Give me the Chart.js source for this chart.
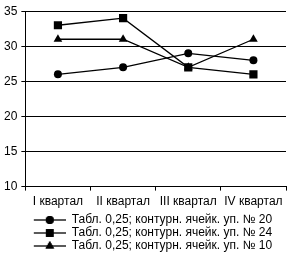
<!DOCTYPE html>
<html><head><meta charset="utf-8">
<script src="https://cdn.jsdelivr.net/npm/chart.js@4"></script>
<style>html,body{margin:0;padding:0;background:#fff;}#wrap{width:295px;height:267px;}</style>
</head><body><div id="wrap"><canvas id="c" width="295" height="267"></canvas></div>
<script>
const categories = ["I квартал", "II квартал", "III квартал", "IV квартал"];
const seriesNames = ["Табл. 0,25; контурн. ячейк. уп. № 20", "Табл. 0,25; контурн. ячейк. уп. № 24", "Табл. 0,25; контурн. ячейк. уп. № 10"];
const series20 = [26, 27, 29, 28];
const series24 = [33, 34, 27, 26];
const series10 = [31, 31, 27, 31];
const yTicks = [10, 15, 20, 25, 30, 35];

const FONT = "'Liberation Sans Narrow', 'Arial Narrow', 'Liberation Sans', Arial, sans-serif";
const styles = ['circle', 'rect', 'triangle'];
const radii = [4, 5.8, 5];
const legendRadii = [4, 5.5, 5];
const ICON_W = 52, ICON_PAD = 20;

function legendIcon(i) {
  const cv = document.createElement('canvas');
  cv.width = ICON_W; cv.height = 12;
  const g = cv.getContext('2d');
  g.strokeStyle = '#000'; g.lineWidth = 1.3;
  g.beginPath(); g.moveTo(ICON_PAD, 6); g.lineTo(ICON_W, 6); g.stroke();
  g.fillStyle = '#000';
  Chart.helpers.drawPoint(g, {pointStyle: styles[i], radius: legendRadii[i], borderWidth: 0}, ICON_PAD + (ICON_W - ICON_PAD) / 2, 6);
  g.fill();
  return cv;
}
const datasets = [series20, series24, series10].map((d, i) => ({
  label: seriesNames[i],
  data: d,
  borderColor: '#000',
  backgroundColor: '#000',
  borderWidth: 1.3,
  pointStyle: styles[i],
  pointRadius: radii[i],
  pointHoverRadius: radii[i],
  pointBackgroundColor: '#000',
  pointBorderWidth: 0,
  tension: 0
}));

new Chart(document.getElementById('c'), {
  type: 'line',
  data: { labels: categories, datasets },
  options: {
    responsive: false,
    animation: false,
    layout: { padding: { left: 0, right: 9, top: 3, bottom: 5 } },
    plugins: {
      tooltip: { enabled: false },
      legend: {
        position: 'bottom',
        align: 'center',
        labels: {
          usePointStyle: true,
          pointStyleWidth: ICON_W,
          boxHeight: 12,
          padding: 1,
          color: '#000',
          font: { family: FONT, size: 12 },
          generateLabels: (chart) => chart.data.datasets.map((ds, i) => ({
            text: ds.label, fillStyle: '#000', strokeStyle: '#000', lineWidth: 0,
            pointStyle: legendIcon(i), datasetIndex: i, hidden: false, fontColor: '#000'
          }))
        }
      }
    },
    scales: {
      x: {
        offset: true,
        grid: { display: true, drawOnChartArea: false, drawTicks: true, tickLength: 4, color: '#000', offset: true },
        border: { color: '#000', width: 1 },
        ticks: { color: '#000', font: { family: FONT, size: 12 }, padding: 4, maxRotation: 0 }
      },
      y: {
        min: 10, max: 35,
        afterBuildTicks: (axis) => { axis.ticks = yTicks.map(v => ({ value: v })); },
        grid: { color: '#000', lineWidth: 1, tickLength: 4 },
        border: { color: '#000', width: 1 },
        ticks: { color: '#000', font: { family: FONT, size: 12 }, padding: 4 }
      }
    }
  }
});
</script></body></html>
